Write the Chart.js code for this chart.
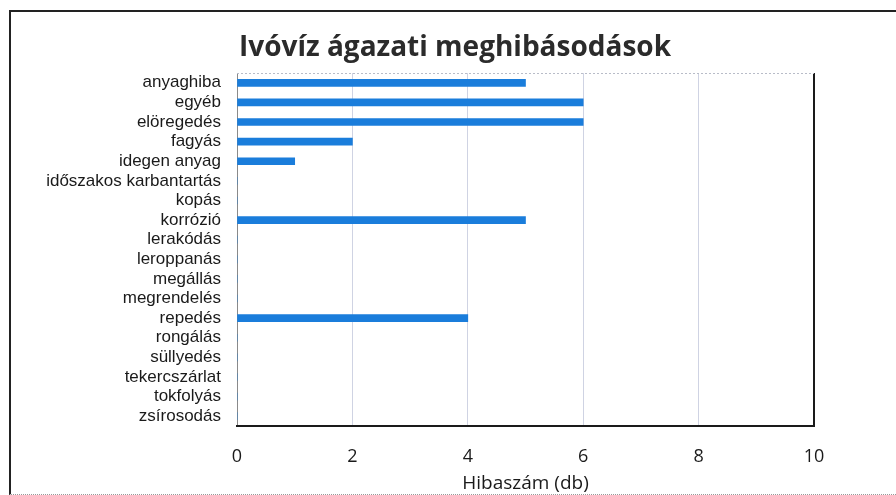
<!DOCTYPE html>
<html>
<head>
<meta charset="utf-8">
<script src="https://cdn.jsdelivr.net/npm/chart.js@4"></script>
<style>
  html, body { margin: 0; padding: 0; background: #fff; }
  #wrap { position: relative; width: 896px; height: 495px; }
  #frame { position: absolute; left: 9px; top: 10px; width: 887px; height: 482px;
           border-left: 2px solid #222; border-top: 2px solid #222; border-bottom: 1px dotted #999; }
  canvas { position: absolute; left: 0; top: 0; }
</style>
</head>
<body>
<div id="wrap">
  <div id="frame"></div>
  <canvas id="chart" width="896" height="495"></canvas>
</div>
<script>
"use strict";

/* ===== DADOS ===== */
const titulo = "Ivóvíz ágazati meghibásodások";
const categorias = [
    "anyaghiba", "egyéb", "elöregedés", "fagyás", "idegen anyag",
    "időszakos karbantartás", "kopás", "korrózió", "lerakódás", "leroppanás",
    "megállás", "megrendelés", "repedés", "rongálás", "süllyedés",
    "tekercszárlat", "tokfolyás", "zsírosodás"
];
const hibaszam = [5, 6, 6, 2, 1, 0, 0, 5, 0, 0, 0, 0, 4, 0, 0, 0, 0, 0];
const xTicks = [0, 2, 4, 6, 8, 10];

// título centrado no quadro + linha fina no topo da área do gráfico
const extras = {
    id: "extras",
    afterDraw(chart) {
        const { ctx, chartArea: a } = chart;
        ctx.save();
        ctx.strokeStyle = "#b8bcc8";
        ctx.setLineDash([2, 2]);
        ctx.lineWidth = 1;
        ctx.beginPath();
        ctx.moveTo(a.left, a.top + 0.5);
        ctx.lineTo(a.right, a.top + 0.5);
        ctx.stroke();
        ctx.setLineDash([]);

        ctx.fillStyle = "#2b2b2b";
        ctx.font = "bold 28px 'Open Sans'";
        ctx.textAlign = "center";
        ctx.textBaseline = "alphabetic";
        ctx.fillText(titulo, 455, 56);
        ctx.restore();
    }
};

new Chart(document.getElementById("chart"), {
    type: "bar",
    data: {
        labels: categorias,
        datasets: [{
            data: hibaszam,
            backgroundColor: "#1a7ddb",
            barThickness: 7
        }]
    },
    options: {
        indexAxis: "y",
        responsive: false,
        animation: false,
        layout: { padding: { left: 0, right: 82, top: 73, bottom: 0 } },
        plugins: {
            legend: { display: false },
            tooltip: { enabled: false },
            title: { display: false }
        },
        scales: {
            x: {
                min: 0,
                max: 10,
                afterBuildTicks: s => { s.ticks = xTicks.map(v => ({ value: v })); },
                afterFit: s => { s.height = 69; },
                grid: {
                    drawTicks: false,
                    color: c => c.tick.value === 0 ? "#8a8a8a" : (c.tick.value === 10 ? "#1a1a1a" : "#cfd3e3"),
                    lineWidth: c => c.tick.value === 10 ? 2 : 1
                },
                border: { color: "#1a1a1a", width: 2 },
                ticks: {
                    color: "#1a1a1a",
                    padding: 20,
                    font: { family: "Open Sans", size: 18 }
                },
                title: {
                    display: true,
                    text: "Hibaszám (db)",
                    color: "#1a1a1a",
                    font: { family: "Open Sans", size: 19 },
                    padding: { top: 0, bottom: 0 }
                }
            },
            y: {
                afterFit: s => { s.width = 237; },
                grid: { display: false, drawTicks: false },
                border: { display: false },
                ticks: {
                    color: "#1a1a1a",
                    padding: 16,
                    autoSkip: false,
                    font: { family: "Liberation Sans", size: 17 }
                }
            }
        }
    },
    plugins: [extras]
});
</script>
</body>
</html>
